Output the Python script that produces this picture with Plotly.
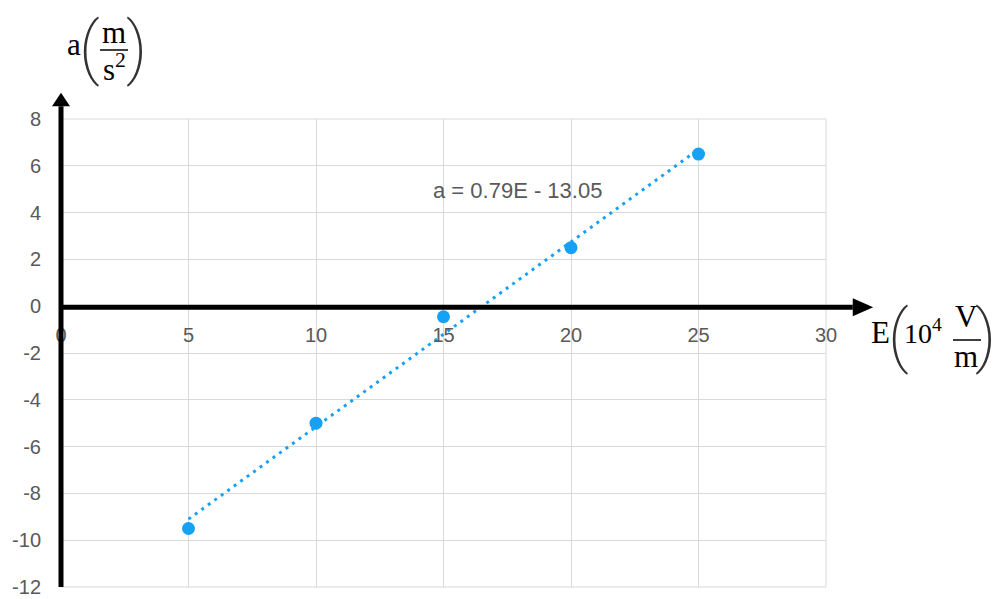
import plotly.graph_objects as go

# Measured acceleration versus electric field strength
field_E = [5, 10, 15, 20, 25]
accel_a = [-9.5, -5.0, -0.45, 2.5, 6.5]

# Linear fit quoted on the chart
fit_slope = 0.79
fit_intercept = -13.05
fit_x = [5, 25]
fit_y = [fit_slope * x + fit_intercept for x in fit_x]

x_ticks = [0, 5, 10, 15, 20, 25, 30]
y_ticks = [8, 6, 4, 2, 0, -2, -4, -6, -8, -10, -12]

X_MIN, X_MAX = 0, 30
Y_MIN, Y_MAX = -12, 8

FIG_W, FIG_H = 995, 599
M_L, M_R, M_T, M_B = 61, 169, 119, 12
PW = FIG_W - M_L - M_R
PH = FIG_H - M_T - M_B

BLUE = "#16a1f5"
GREY_TXT = "#595959"
GRID = "#d9d9d9"
SERIF = "Liberation Serif, Times New Roman, serif"
SANS = "Liberation Sans, Arial, sans-serif"


def dx(x):
    """data x -> paper x"""
    return (x - X_MIN) / (X_MAX - X_MIN)


def dy(y):
    """data y -> paper y"""
    return (y - Y_MIN) / (Y_MAX - Y_MIN)


def px(p):
    """page pixel x -> paper x"""
    return (p - M_L) / PW


def py(p):
    """page pixel y -> paper y"""
    return (M_T + PH - p) / PH


fig = go.Figure()

fig.add_trace(go.Scatter(
    x=fit_x, y=fit_y, mode="lines",
    line=dict(color=BLUE, width=3, dash="3px,5px"),
    hoverinfo="skip", showlegend=False,
))
fig.add_trace(go.Scatter(
    x=field_E, y=accel_a, mode="markers",
    marker=dict(color=BLUE, size=13),
    showlegend=False,
))

shapes = []
# Frame lines at the range ends
for x0, x1, y0, y1 in [(1, 1, 0, 1), (0, 1, 0, 0), (0, 1, 1, 1)]:
    shapes.append(dict(type="line", xref="paper", yref="paper",
                       x0=x0, x1=x1, y0=y0, y1=y1,
                       line=dict(color=GRID, width=1), layer="below"))

# Axis arrows (thick black) drawn over the grid
AX_W = 5
shapes.append(dict(type="line", xref="paper", yref="paper",
                   x0=dx(0), y0=dy(Y_MIN), x1=dx(0), y1=dy(8.55),
                   line=dict(color="black", width=AX_W), layer="above"))
shapes.append(dict(type="path", xref="paper", yref="paper",
                   path=f"M {dx(0) - 9/PW} {dy(8.55)} L {dx(0) + 9/PW} {dy(8.55)} "
                        f"L {dx(0)} {dy(9.12)} Z",
                   fillcolor="black", line=dict(width=0), layer="above"))
shapes.append(dict(type="line", xref="paper", yref="paper",
                   x0=dx(0), y0=dy(-0.05), x1=dx(31.05), y1=dy(-0.05),
                   line=dict(color="black", width=AX_W), layer="above"))
shapes.append(dict(type="path", xref="paper", yref="paper",
                   path=f"M {dx(31.05)} {dy(-0.05) + 9/PH} L {dx(31.05)} {dy(-0.05) - 9/PH} "
                        f"L {dx(31.85)} {dy(-0.05)} Z",
                   fillcolor="black", line=dict(width=0), layer="above"))

# Fraction bars in the axis titles
shapes.append(dict(type="line", xref="paper", yref="paper",
                   x0=px(100), x1=px(128), y0=py(50), y1=py(50),
                   line=dict(color="black", width=1.5)))
shapes.append(dict(type="line", xref="paper", yref="paper",
                   x0=px(953), x1=px(981), y0=py(340), y1=py(340),
                   line=dict(color="black", width=1.5)))


def lab(text, x, y, size=31, family=SERIF, weight="normal", color="black"):
    return dict(text=text, xref="paper", yref="paper", x=px(x), y=py(y),
                xanchor="center", yanchor="middle", showarrow=False,
                font=dict(family=family, size=size, color=color, weight=weight))


# tall, thin delimiters around the unit fractions
PAREN = dict(size=68, family="Roboto, DejaVu Sans", weight=200, color="#333333")

annotations = [
    # y-axis title: a (m / s^2)
    lab("a", 74, 45),
    lab("(", 89.5, 48, **PAREN),
    lab("m", 114, 32),
    lab("s<sup>2</sup>", 114, 68),
    lab(")", 136, 48, **PAREN),
    # x-axis title: E (10^4 V / m)
    lab("E", 880, 332),
    lab("(", 898, 336, **PAREN),
    lab("10<sup>4</sup>", 923, 331, size=28),
    lab("V", 966, 316),
    lab("m", 966, 356),
    lab(")", 986, 336, **PAREN),
    # fitted equation
    dict(text=f"a = {fit_slope}E - {abs(fit_intercept):.2f}", x=17.9, y=4.94,
         xref="x", yref="y", xanchor="center", yanchor="middle", showarrow=False,
         font=dict(family=SANS, size=22, color=GREY_TXT)),
]

fig.update_layout(
    width=FIG_W, height=FIG_H,
    margin=dict(l=M_L, r=M_R, t=M_T, b=M_B, pad=0, autoexpand=False),
    paper_bgcolor="white", plot_bgcolor="white",
    shapes=shapes, annotations=annotations,
    font=dict(family=SANS, size=20, color=GREY_TXT),
)
fig.update_xaxes(
    range=[X_MIN, X_MAX], tickvals=x_ticks, ticktext=[str(v) for v in x_ticks],
    tickfont=dict(family=SANS, size=20, color=GREY_TXT),
    showgrid=True, gridcolor=GRID, gridwidth=1, zeroline=False,
    showline=False, ticks="", anchor="free", position=dy(0),
    ticklabelstandoff=15, automargin=False,
)
fig.update_yaxes(
    range=[Y_MIN, Y_MAX], tickvals=y_ticks, ticktext=[str(v) for v in y_ticks],
    tickfont=dict(family=SANS, size=20, color=GREY_TXT),
    showgrid=True, gridcolor=GRID, gridwidth=1, zeroline=False,
    showline=False, ticks="", ticklabelstandoff=19, automargin=False,
)

fig.write_html("out.html")
